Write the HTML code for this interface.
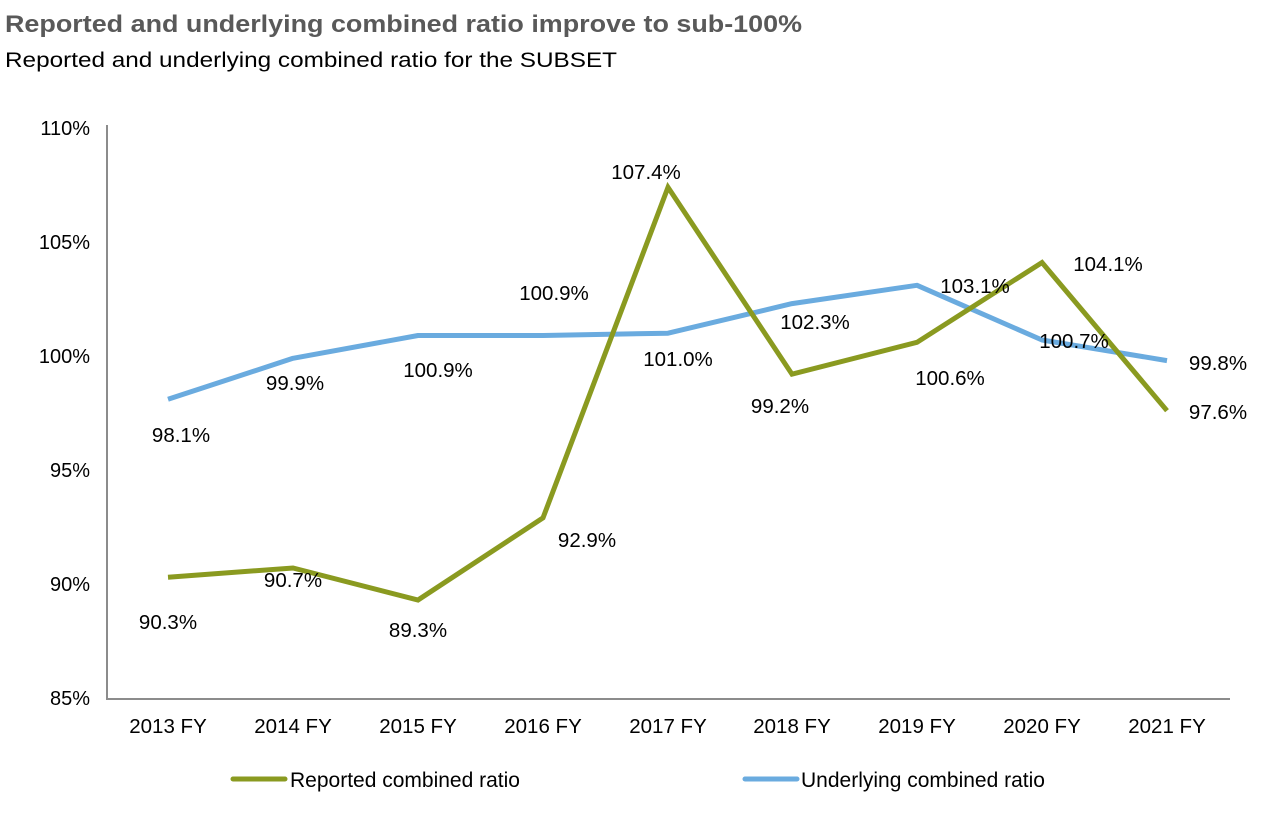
<!DOCTYPE html>
<html><head><meta charset="utf-8"><style>
html,body{margin:0;padding:0;background:#fff;}
body{width:1266px;height:814px;overflow:hidden;font-family:"Liberation Sans",Arial,sans-serif;}
</style></head><body>
<svg width="1266" height="814" xmlns="http://www.w3.org/2000/svg" font-family="Liberation Sans, Arial, sans-serif">
<text x="5" y="32" font-size="24" font-weight="bold" fill="#595959" textLength="797" lengthAdjust="spacingAndGlyphs">Reported and underlying combined ratio improve to sub-100%</text>
<text x="5" y="67" font-size="21" fill="#000" textLength="612" lengthAdjust="spacingAndGlyphs">Reported and underlying combined ratio for the SUBSET</text>
<g font-size="20" fill="#000" text-anchor="end">
<text x="90" y="135">110%</text>
<text x="90" y="249">105%</text>
<text x="90" y="363">100%</text>
<text x="90" y="477">95%</text>
<text x="90" y="591">90%</text>
<text x="90" y="705">85%</text>
</g>
<polyline points="107,125 107,699 1230,699" fill="none" stroke="#8c8c8c" stroke-width="2"/>
<g font-size="20.5" fill="#000" text-anchor="middle">
<text x="168" y="733">2013 FY</text><text x="293" y="733">2014 FY</text><text x="418" y="733">2015 FY</text>
<text x="543" y="733">2016 FY</text><text x="668" y="733">2017 FY</text><text x="792" y="733">2018 FY</text>
<text x="917" y="733">2019 FY</text><text x="1042" y="733">2020 FY</text><text x="1167" y="733">2021 FY</text>
</g>
<polyline points="168,399.3 293,358.3 418,335.5 543,335.5 668,333.2 792,303.6 917,285.3 1042,340 1167,360.6" fill="none" stroke="#6aabdf" stroke-width="5" stroke-linejoin="round"/>
<polyline points="168,577.2 293,568 418,600 543,517.9 668,187.3 792,374.2 917,342.3 1042,262.5 1167,410.7" fill="none" stroke="#8a9a20" stroke-width="5" stroke-linejoin="miter"/>
<g font-size="20.5" fill="#000" text-anchor="middle">
<text x="168" y="629">90.3%</text><text x="293" y="587">90.7%</text><text x="418" y="637">89.3%</text>
<text x="587" y="547">92.9%</text><text x="646" y="179">107.4%</text><text x="780" y="413">99.2%</text>
<text x="950" y="385">100.6%</text><text x="1108" y="271">104.1%</text><text x="1218" y="419">97.6%</text>
<text x="181" y="442">98.1%</text><text x="295" y="390">99.9%</text><text x="438" y="377">100.9%</text>
<text x="554" y="300">100.9%</text><text x="678" y="366">101.0%</text><text x="815" y="329">102.3%</text>
<text x="975" y="293">103.1%</text><text x="1074" y="348">100.7%</text><text x="1218" y="370">99.8%</text>
</g>
<line x1="233" y1="779" x2="285" y2="779" stroke="#8a9a20" stroke-width="5" stroke-linecap="round"/>
<text x="290" y="787" font-size="21" fill="#000">Reported combined ratio</text>
<line x1="745" y1="779" x2="797" y2="779" stroke="#6aabdf" stroke-width="5" stroke-linecap="round"/>
<text x="801" y="787" font-size="21" fill="#000">Underlying combined ratio</text>
</svg>
</body></html>
